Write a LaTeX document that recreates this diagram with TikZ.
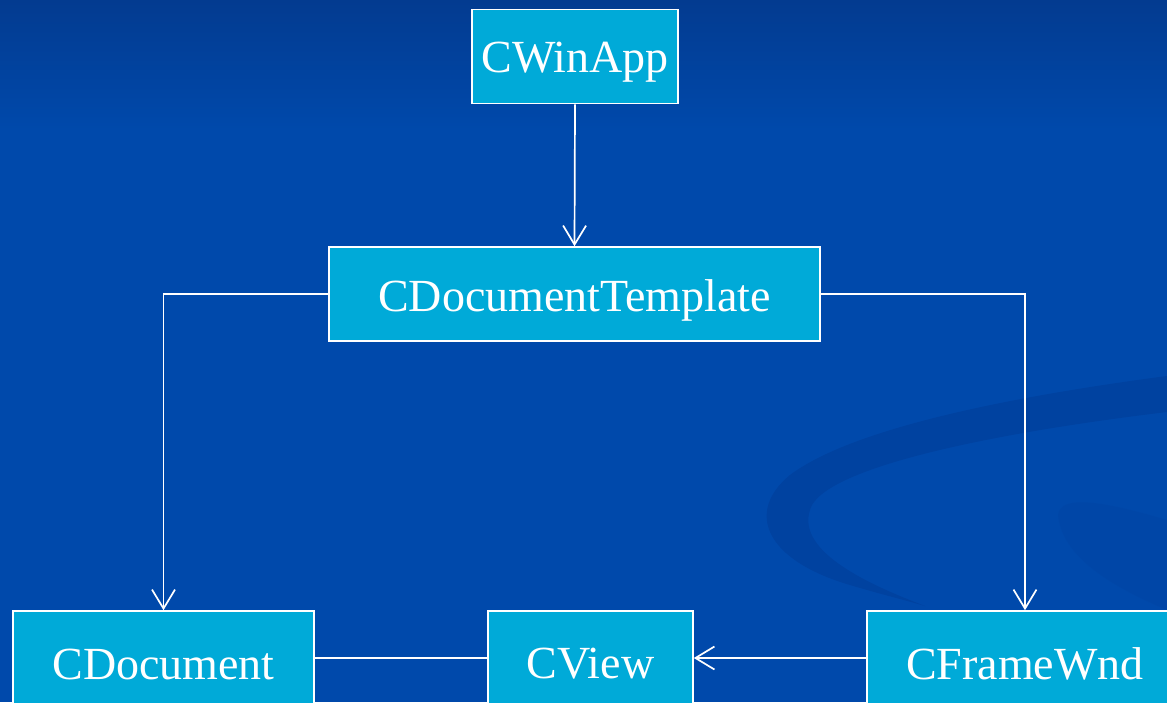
\documentclass[tikz,border=0pt]{standalone}
\usepackage{fontspec}
\setmainfont{Liberation Serif}
\usetikzlibrary{arrows.meta}
\definecolor{bgblue}{HTML}{0049AB}
\definecolor{bgtop}{HTML}{033B90}
\definecolor{swoosh}{HTML}{0042A0}
\definecolor{boxfill}{HTML}{00AAD8}
\newcommand{\lowtxt}[1]{\raisebox{-6pt}[\height][\depth]{#1}}
\tikzset{
  cls/.style={draw=white, line width=1.6pt, fill=boxfill, text=white,
    font=\fontsize{46}{50}\selectfont, inner sep=0pt, minimum height=94pt},
  conn/.style={draw=white, line width=1.7pt},
  arr/.style={conn, -{Straight Barb[length=19pt,width=23pt,line width=1.7pt]}}
}
\begin{document}
\begin{tikzpicture}[x=1pt,y=-1pt]
\useasboundingbox (0,0) rectangle (1167,702);
\fill[bgblue] (0,0) rectangle (1167,702);
\shade[top color=bgtop, bottom color=bgblue] (0,0) rectangle (1167,130);
% swoosh
\fill[swoosh] (1167,376) .. controls (1000,398) and (850,430) .. (790,475)
  .. controls (745,512) and (765,560) .. (850,585)
  .. controls (880,594) and (905,600) .. (925,606)
  .. controls (870,585) and (790,550) .. (812,505)
  .. controls (835,465) and (1000,432) .. (1167,412) -- cycle;
\fill[swoosh, opacity=0.3] (1167,520) .. controls (1100,500) and (1060,495) .. (1058,515)
  .. controls (1062,560) and (1120,590) .. (1167,610) -- cycle;
% nodes
\node[cls, minimum width=206pt] (app) at (575,56.5) {\lowtxt{CWinApp}};
\node[cls, minimum width=491pt] (tpl) at (574.5,294) {\lowtxt{CDocumentTemplate}};
\node[cls, minimum width=301pt] (doc) at (163.5,658) {\lowtxt{CDocument}};
\node[cls, minimum width=205pt] (view) at (590.5,658) {\lowtxt{CView}};
\node[cls, minimum width=316pt] (frm) at (1025,658) {\lowtxt{CFrameWnd}};
% connectors
\draw[arr] (app.south) -- (tpl.north);
\draw[arr] (tpl.west) -| (doc.north);
\draw[arr] (tpl.east) -| (frm.north);
\draw[conn] (doc.east) -- (view.west);
\draw[arr] (frm.west) -- (view.east);
\end{tikzpicture}
\end{document}
